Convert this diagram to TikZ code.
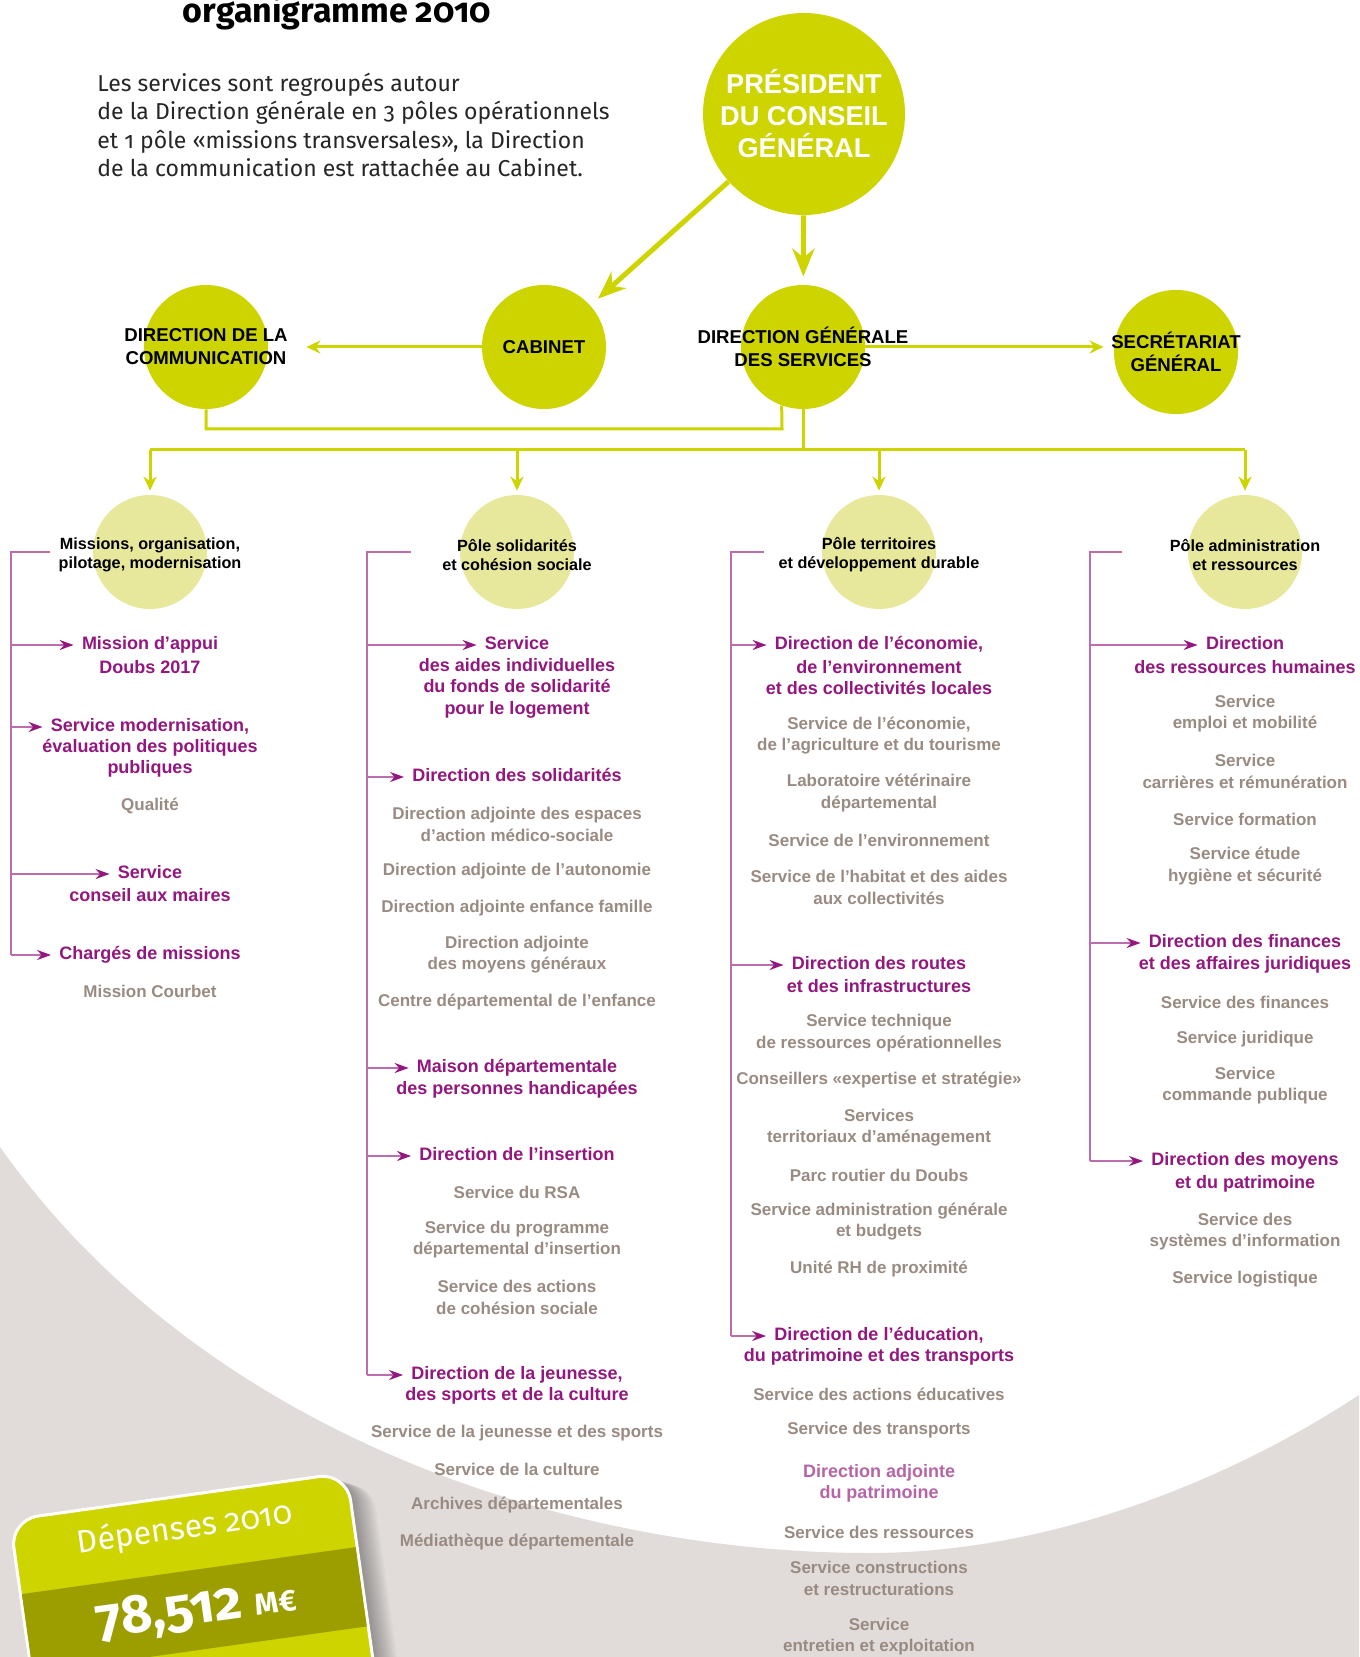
\documentclass[tikz,border=0pt]{standalone}
\usepackage{fontspec}
\setmainfont{Liberation Sans}
\newfontfamily\firafont[Numbers=OldStyle]{Fira Sans}
\usepackage{tikz}
\usetikzlibrary{arrows.meta}

\definecolor{limec}{HTML}{CDD400}
\definecolor{polefill}{HTML}{E8E89C}
\definecolor{magc}{HTML}{93177F}
\definecolor{brkc}{HTML}{BC6DAE}
\definecolor{grayt}{HTML}{9A8B82}
\definecolor{palemag}{HTML}{B565A7}
\definecolor{bgc}{HTML}{E1DCDA}
\definecolor{olivec}{HTML}{9C9E00}

\tikzset{
  bigc/.style={circle,fill=limec,minimum size=62pt,inner sep=0pt},
  presc/.style={circle,fill=limec,minimum size=101pt,inner sep=0pt},
  polec/.style={circle,fill=polefill,minimum size=57pt,inner sep=0pt},
  toptxt/.style={align=center,inner sep=0pt,font=\bfseries\fontsize{9.3}{11.6}\selectfont},
  prestxt/.style={align=center,inner sep=0pt,text=white,font=\bfseries\fontsize{13.6}{16}\selectfont},
  poletxt/.style={align=center,inner sep=0pt,yshift=-1.5pt,font=\bfseries\fontsize{8.1}{9.5}\selectfont},
  head/.style={text=magc,inner sep=2pt,text height=6.6pt,text depth=1.9pt,font=\bfseries\fontsize{9}{10.7}\selectfont},
  headb/.style={text=magc,align=center,inner sep=0pt,font=\bfseries\fontsize{9}{10.7}\selectfont},
  sub/.style={text=grayt,align=center,inner sep=0pt,font=\bfseries\fontsize{8.5}{10.6}\selectfont},
  bigarr/.style={limec,line width=2.5pt,-{Stealth[length=14pt,width=11pt]}},
  smarr/.style={limec,line width=1.5pt,-{Stealth[length=7pt,width=6.5pt]}},
  lk/.style={limec,line width=1.5pt},
  brk/.style={brkc,line width=0.75pt},
  marr/.style={brkc,line width=0.75pt,shorten >=2pt,-{Stealth[length=7pt,width=5pt,color=magc]}}
}

\begin{document}
\begin{tikzpicture}[x=0.5pt,y=-0.5pt]
\useasboundingbox (0,0) rectangle (1359,1657);
\clip (0,0) rectangle (1359,1657);
\fill[white] (0,0) rectangle (1359,1657);
\fill[bgc] (0,1147) .. controls (200,1430) and (560,1553) .. (870,1553)
  .. controls (1050,1553) and (1230,1480) .. (1359,1395) -- (1359,1657) -- (0,1657) -- cycle;

% title and intro
\node[anchor=base,inner sep=0pt,font=\firafont\bfseries\fontsize{17}{20}\selectfont] (title) at (337,23) {organigramme 2010};
\node[anchor=west,align=left,inner sep=0pt,text=black!85,font=\firafont\fontsize{11.5}{14.25}\selectfont] (intro) at (97,125)
  {Les services sont regroupés autour\\de la Direction générale en 3 pôles opérationnels\\et 1 pôle «missions transversales», la Direction\\de la communication est rattachée au Cabinet.};

% top level
\node[presc,label={[prestxt]center:{PRÉSIDENT\\DU CONSEIL\\GÉNÉRAL}}] (pres) at (804,114) {};
\node[bigc,label={[toptxt]center:{DIRECTION DE LA\\COMMUNICATION}}] (com) at (206,347) {};
\node[bigc,label={[toptxt]center:CABINET}] (cab) at (544,347) {};
\node[bigc,label={[toptxt]center:{DIRECTION GÉNÉRALE\\DES SERVICES}}] (dgs) at (803,347) {};
\node[bigc,label={[toptxt]center:{SECRÉTARIAT\\GÉNÉRAL}}] (sg) at (1176,352) {};

\draw[bigarr,shorten >=4pt] (pres) -- (dgs);
\draw[bigarr,shorten >=5pt] (pres) -- (cab);
\draw[smarr,shorten >=19pt] (cab) -- (com);
\draw[smarr,shorten >=5pt] (dgs.east) -- (dgs.east -| sg.west);
\coordinate (jcom) at (782,429);
\draw[lk] (com.south) |- (jcom) -- (dgs.-110);

% poles
\node[polec,label={[poletxt]center:{Missions, organisation,\\pilotage, modernisation}}] (p1) at (150,552) {};
\node[polec,label={[poletxt]center:{Pôle solidarités\\et cohésion sociale}}] (p2) at (517,552) {};
\node[polec,label={[poletxt]center:{Pôle territoires\\et développement durable}}] (p3) at (879,552) {};
\node[polec,label={[poletxt]center:{Pôle administration\\et ressources}}] (p4) at (1245,552) {};

\coordinate (bus) at (803,450);
\draw[lk] (dgs.south) -- (bus);
\draw[lk] (p1 |- bus) -- (p4 |- bus);
\foreach \p in {p1,p2,p3,p4}
  \draw[smarr,shorten >=2pt] (\p |- bus) -- (\p.north);

% column 1
\node[head] (h11) at (150,645) {Mission d’appui};
\node[headb] (h11b) at (150,667) {Doubs 2017};
\node[head] (h12) at (150,727) {Service modernisation,};
\node[headb] (h12b) at (150,758.5) {évaluation des politiques\\publiques};
\node[sub] (s11) at (150,806) {Qualité};
\node[head] (h13) at (150,874) {Service};
\node[headb] (h13b) at (150,895) {conseil aux maires};
\node[head] (h14) at (150,955) {Chargés de missions};
\node[sub] (s12) at (150,991) {Mission Courbet};

% column 2
\node[head] (h21) at (517,645) {Service};
\node[headb] (h21b) at (517,688) {des aides individuelles\\du fonds de solidarité\\pour le logement};
\node[head] (h22) at (517,777) {Direction des solidarités};
\node[sub] (s21) at (517,824.5) {Direction adjointe des espaces\\d’action médico-sociale};
\node[sub] (s22) at (517,871) {Direction adjointe de l’autonomie};
\node[sub] (s23) at (517,908) {Direction adjointe enfance famille};
\node[sub] (s24) at (517,955) {Direction adjointe\\des moyens généraux};
\node[sub] (s25) at (517,1002) {Centre départemental de l’enfance};
\node[head] (h23) at (517,1068) {Maison départementale};
\node[headb] (h23b) at (517,1090) {des personnes handicapées};
\node[head] (h24) at (517,1156) {Direction de l’insertion};
\node[sub] (s26) at (517,1192) {Service du RSA};
\node[sub] (s27) at (517,1239.5) {Service du programme\\départemental d’insertion};
\node[sub] (s28) at (517,1297.5) {Service des actions\\de cohésion sociale};
\node[head] (h25) at (517,1375) {Direction de la jeunesse,};
\node[headb] (h25b) at (517,1396) {des sports et de la culture};
\node[sub] (s29) at (517,1433) {Service de la jeunesse et des sports};
\node[sub] (s2a) at (517,1469) {Service de la culture};
\node[sub] (s2b) at (517,1505) {Archives départementales};
\node[sub] (s2c) at (517,1542) {Médiathèque départementale};

% column 3
\node[head] (h31) at (879,645) {Direction de l’économie,};
\node[headb] (h31b) at (879,677.5) {de l’environnement\\et des collectivités locales};
\node[sub] (s31) at (879,735.5) {Service de l’économie,\\de l’agriculture et du tourisme};
\node[sub] (s32) at (879,793) {Laboratoire vétérinaire\\départemental};
\node[sub] (s33) at (879,840) {Service de l’environnement};
\node[sub] (s34) at (879,887.5) {Service de l’habitat et des aides\\aux collectivités};
\node[head] (h32) at (879,965) {Direction des routes};
\node[headb] (h32b) at (879,986) {et des infrastructures};
\node[sub] (s35) at (879,1033) {Service technique\\de ressources opérationnelles};
\node[sub] (s36) at (879,1080) {Conseillers «expertise et stratégie»};
\node[sub] (s37) at (879,1127.5) {Services\\territoriaux d’aménagement};
\node[sub] (s38) at (879,1175) {Parc routier du Doubs};
\node[sub] (s39) at (879,1221.5) {Service administration générale\\et budgets};
\node[sub] (s3a) at (879,1269) {Unité RH de proximité};
\node[head] (h33) at (879,1336) {Direction de l’éducation,};
\node[headb] (h33b) at (879,1357) {du patrimoine et des transports};
\node[sub] (s3b) at (879,1394) {Service des actions éducatives};
\node[sub] (s3c) at (879,1430) {Service des transports};
\node[sub,text=palemag,font=\bfseries\fontsize{9}{10.7}\selectfont] (s3d) at (879,1483.5) {Direction adjointe\\du patrimoine};
\node[sub] (s3e) at (879,1532) {Service des ressources};
\node[sub] (s3f) at (879,1578.5) {Service constructions\\et restructurations};
\node[sub] (s3g) at (879,1636.5) {Service\\entretien et exploitation};

% column 4
\node[head] (h41) at (1245,645) {Direction};
\node[headb] (h41b) at (1245,667) {des ressources humaines};
\node[sub] (s41) at (1245,714) {Service\\emploi et mobilité};
\node[sub] (s42) at (1245,771.5) {Service\\carrières et rémunération};
\node[sub] (s43) at (1245,819) {Service formation};
\node[sub] (s44) at (1245,866) {Service étude\\hygiène et sécurité};
\node[head] (h42) at (1245,943) {Direction des finances};
\node[headb] (h42b) at (1245,965) {et des affaires juridiques};
\node[sub] (s45) at (1245,1002) {Service des finances};
\node[sub] (s46) at (1245,1039) {Service juridique};
\node[sub] (s47) at (1245,1085.5) {Service\\commande publique};
\node[head] (h43) at (1245,1161) {Direction des moyens};
\node[headb] (h43b) at (1245,1184) {et du patrimoine};
\node[sub] (s48) at (1245,1231.5) {Service des\\systèmes d’information};
\node[sub] (s49) at (1245,1279) {Service logistique};

% brackets
\coordinate (b1) at (11,552);   \coordinate (b1s) at (50,552);
\coordinate (b2) at (367,552);  \coordinate (b2s) at (411,552);
\coordinate (b3) at (731,552);  \coordinate (b3s) at (764,552);
\coordinate (b4) at (1090,552); \coordinate (b4s) at (1122,552);
\draw[brk] (b1s) -- (b1) -- (b1 |- h14);
\draw[brk] (b2s) -- (b2) -- (b2 |- h25);
\draw[brk] (b3s) -- (b3) -- (b3 |- h33);
\draw[brk] (b4s) -- (b4) -- (b4 |- h43);
\foreach \h in {h11,h12,h13,h14} \draw[marr] (b1 |- \h) -- (\h.west);
\foreach \h in {h21,h22,h23,h24,h25} \draw[marr] (b2 |- \h) -- (\h.west);
\foreach \h in {h31,h32,h33} \draw[marr] (b3 |- \h) -- (\h.west);
\foreach \h in {h41,h42,h43} \draw[marr] (b4 |- \h) -- (\h.west);

% budget card
\begin{scope}[shift={(10,1520)},rotate=8,transform shape]
\foreach \s in {2,4,...,24}
  \fill[black,opacity=0.03,rounded corners=14pt] (\s,320) -- (\s,\s/2) -- (340+\s,\s/2) -- (340+\s,320) -- cycle;
\filldraw[fill=limec,draw=white,line width=1.5pt,rounded corners=14pt] (0,320) -- (0,0) -- (340,0) -- (340,320);
\fill[olivec] (1.5,75) rectangle (338.5,155);
\node[text=white,inner sep=0pt,font=\firafont\fontsize{16}{18}\selectfont] (dep) at (172,33) {Dépenses 2010};
\node[text=white,inner sep=0pt,font=\firafont\bfseries\fontsize{27}{30}\selectfont] (amt) at (172,115) {78,512 {\fontsize{15}{15}\selectfont M€}};
\end{scope}
\end{tikzpicture}
\end{document}
